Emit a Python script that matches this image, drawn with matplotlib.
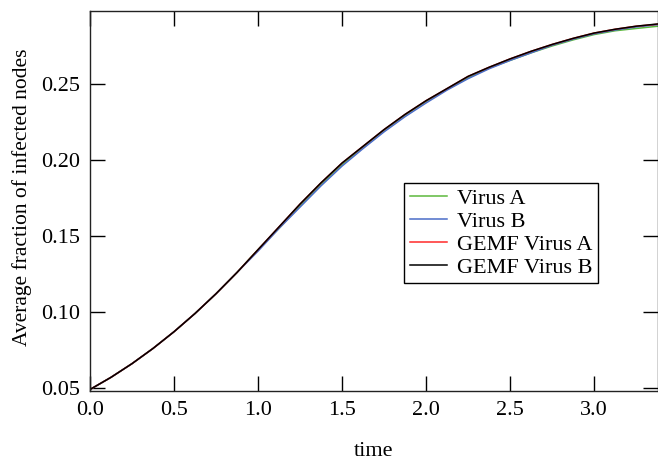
import matplotlib
matplotlib.use("Agg")
import matplotlib.pyplot as plt
import numpy as np

plt.rcParams['font.family'] = ['Liberation Serif', 'DejaVu Serif']
plt.rcParams['font.size'] = 16

# values
time = [0.0, 0.125, 0.25, 0.375, 0.5, 0.625, 0.75, 0.875, 1.0, 1.125, 1.25,
        1.375, 1.5, 1.625, 1.75, 1.875, 2.0, 2.125, 2.25, 2.375, 2.5, 2.625,
        2.75, 2.875, 3.0, 3.125, 3.25, 3.38]
gemf_b = [0.049, 0.057, 0.066, 0.076, 0.087, 0.099, 0.112, 0.126, 0.141, 0.156, 0.171,
          0.185, 0.198, 0.209, 0.220, 0.230, 0.239, 0.247, 0.255, 0.261, 0.2665, 0.2715,
          0.276, 0.280, 0.2835, 0.286, 0.288, 0.2895]
gemf_a = [0.049, 0.057, 0.066, 0.076, 0.087, 0.099, 0.112, 0.126, 0.141, 0.156, 0.171,
          0.185, 0.198, 0.209, 0.220, 0.230, 0.239, 0.247, 0.255, 0.261, 0.2665, 0.2715,
          0.276, 0.280, 0.2835, 0.286, 0.288, 0.2893]
virus_a = [0.049, 0.057, 0.066, 0.076, 0.087, 0.099, 0.112, 0.126, 0.141, 0.155, 0.170,
           0.184, 0.197, 0.2085, 0.2195, 0.2295, 0.2385, 0.2465, 0.254, 0.2605, 0.2655, 0.2705,
           0.275, 0.279, 0.2825, 0.285, 0.2865, 0.288]
virus_b = [0.049, 0.057, 0.066, 0.076, 0.087, 0.099, 0.112, 0.126, 0.140, 0.155, 0.169,
           0.183, 0.196, 0.2075, 0.2185, 0.2285, 0.2375, 0.246, 0.2535, 0.26, 0.2655, 0.2705,
           0.2755, 0.2795, 0.283, 0.2855, 0.2875, 0.289]

fig = plt.figure(figsize=(6.58, 4.61), dpi=100)
ax = fig.add_axes([90/658, 1-391/461, 568/658, 380/461])

ax.plot(time, virus_a, color="#5cb83c", lw=1.1, label="Virus A")
ax.plot(time, virus_b, color="#4a6cc8", lw=1.1, label="Virus B")
ax.plot(time, gemf_a, color="#ff2a2a", lw=1.1, label="GEMF Virus A")
ax.plot(time, gemf_b, color="black", lw=1.1, label="GEMF Virus B")

ax.set_xlim(0, 3.38)
ax.set_ylim(0.048, 0.298)
ax.set_xticks(np.arange(0, 3.01, 0.5))
ax.set_yticks(np.arange(0.05, 0.251, 0.05))
ax.xaxis.set_major_formatter(matplotlib.ticker.FormatStrFormatter('%.1f'))
ax.yaxis.set_major_formatter(matplotlib.ticker.FormatStrFormatter('%.2f'))
ax.tick_params(direction='in', length=11, width=1, top=True, right=True,
               labelsize=16, pad=7)
for s in ax.spines.values():
    s.set_linewidth(1)
    s.set_color('#222222')

ax.set_xlabel("time", fontsize=16, labelpad=16)
ax.set_ylabel("Average fraction of infected nodes", fontsize=15.5)
ax.yaxis.set_label_coords(-0.102, 0.51)

leg = ax.legend(loc='upper left', bbox_to_anchor=(0.553, 0.547), fontsize=16,
                frameon=True, fancybox=False, framealpha=1, edgecolor='black',
                handlelength=1.7, labelspacing=0.1, borderpad=0.25, handletextpad=0.45,
                borderaxespad=0)
leg.get_frame().set_linewidth(1)

fig.savefig("out.png", dpi=100)
